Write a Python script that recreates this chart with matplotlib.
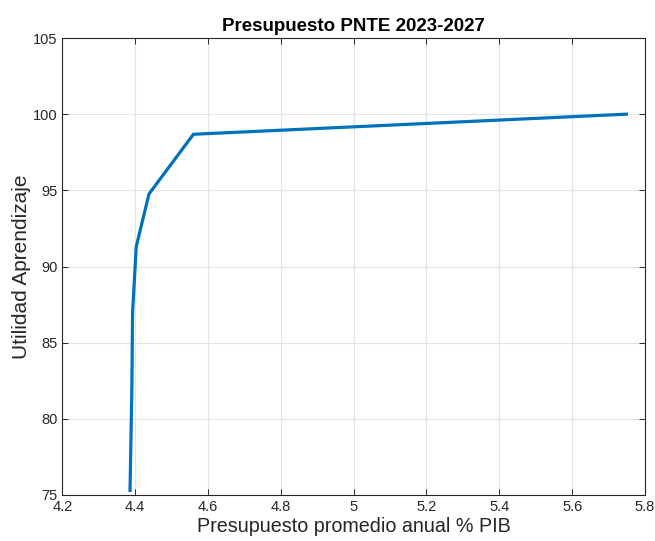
import matplotlib
matplotlib.use("Agg")
import matplotlib.pyplot as plt

presupuesto = [4.386, 4.391, 4.393, 4.403, 4.438, 4.560, 5.749]
utilidad = [75.3, 82.0, 87.0, 91.3, 94.76, 98.68, 100.0]

x_ticks = [4.2, 4.4, 4.6, 4.8, 5.0, 5.2, 5.4, 5.6, 5.8]
x_ticklabels = ["4.2", "4.4", "4.6", "4.8", "5", "5.2", "5.4", "5.6", "5.8"]
y_ticks = [75, 80, 85, 90, 95, 100, 105]

plt.rcParams['font.family'] = ['Liberation Sans', 'DejaVu Sans']

fig = plt.figure(figsize=(6.55, 5.41), dpi=100)
ax = fig.add_axes([62.3/655, 1-495/541, (645-62.3)/655, (495-38)/541])

ax.plot(presupuesto, utilidad, color='#0072BD', linewidth=2.3, solid_joinstyle='miter')

ax.set_xlim(4.2, 5.8)
ax.set_ylim(75, 105)
ax.set_xticks(x_ticks)
ax.set_xticklabels(x_ticklabels)
ax.set_yticks(y_ticks)
ax.grid(True, color='#e3e3e3', linewidth=0.8)
ax.set_axisbelow(True)
ax.tick_params(direction='in', top=True, right=True, length=4, width=0.7,
               labelsize=10.5, colors='#262626', labelcolor='#262626')
for s in ax.spines.values():
    s.set_color('#262626')
    s.set_linewidth(0.8)

ax.set_title("Presupuesto PNTE 2023-2027", fontsize=13.5, fontweight='bold', pad=5)
ax.set_xlabel("Presupuesto promedio anual % PIB", fontsize=14.2, color='#262626', labelpad=2)
ax.set_ylabel("Utilidad Aprendizaje", fontsize=15, color='#262626', labelpad=1)

fig.savefig("out.png", dpi=100)
